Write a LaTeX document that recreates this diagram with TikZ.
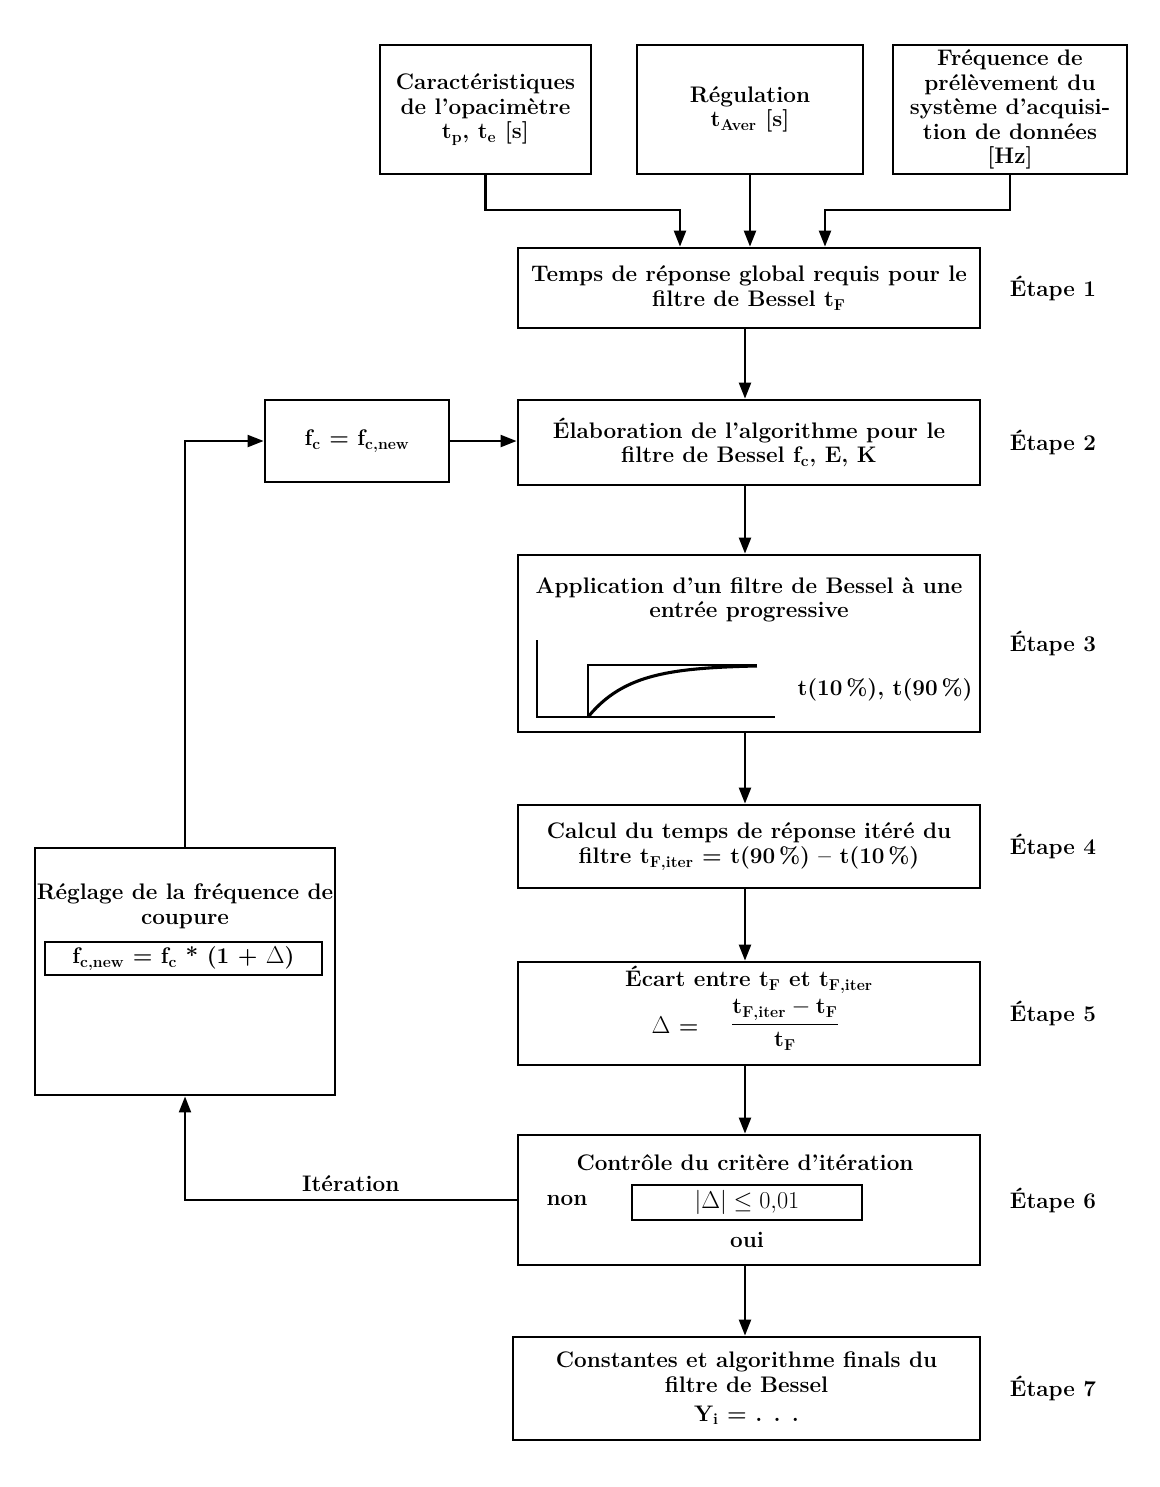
\documentclass[tikz,border=0pt]{standalone}
\usepackage{fontspec}
\usepackage{amsmath}
\usepackage{amssymb}
\usepackage{tikz}
\usetikzlibrary{calc,arrows.meta}

\begin{document}
\begin{tikzpicture}
    [%%%%%%%%%%%%%%%%%%%%%%%%%%%%%%
        x=0.025cm, y=-0.025cm,
        box/.style={draw=black, line width=2pt, inner sep=0pt, align=center,
            font=\fontsize{16}{17.5}\selectfont\bfseries},
        txt/.style={inner sep=0pt, align=center, font=\fontsize{16}{17.5}\selectfont\bfseries},
        arr/.style={line width=1.6pt, -{Triangle[length=0.4cm,width=0.3cm]}},
    ]%%%%%%%%%%%%%%%%%%%%%%%%%%%%%%

\useasboundingbox (0,0) rectangle (1159,1487);
%\draw[help lines] (0,0) grid[step=50] (1159,1487);

% entrees
\node[box, minimum width=5.275cm, minimum height=3.225cm] (opaci) at (485.5,109.5)
	{Caractéristiques\\de l'opacimètre\\t\textsubscript{p}, t\textsubscript{e} [s]};
\node[box, minimum width=5.65cm, minimum height=3.225cm] (regul) at (750,109.5)
	{Régulation\\t\textsubscript{Aver} [s]};
\node[box, minimum width=5.85cm, minimum height=3.225cm] (freq) at (1010,109.5)
	{Fréquence de\\prélèvement du\\système d'acquisi-\\tion de données\\{[Hz]}};

% etapes
\node[box, minimum width=11.55cm, minimum height=2cm] (step1) at (749,288)
	{Temps de réponse global requis pour le\\filtre de Bessel t\textsubscript{F}};
\node[box, minimum width=11.55cm, minimum height=2.125cm] (step2) at (749,442.5)
	{Élaboration de l'algorithme pour le\\filtre de Bessel f\textsubscript{c}, E, K};
\node[box, minimum width=11.55cm, minimum height=4.425cm] (step3) at (749,643.5) {};
\node[txt] (step3t) at (749,600) {Application d'un filtre de Bessel à une\\entrée progressive};
\node[txt] (tcent) at (885,690) {t(10\,\%), t(90\,\%)};
\node[box, minimum width=11.55cm, minimum height=2.075cm] (step4) at (749,846.5)
	{Calcul du temps de réponse itéré du\\filtre t\textsubscript{F,iter} = t(90\,\%) -- t(10\,\%)};
\node[box, minimum width=11.55cm, minimum height=2.575cm] (step5) at (749,1013.5) {};
\node[txt] (ecart) at (749,980) {Écart entre t\textsubscript{F} et t\textsubscript{F,iter}};
\node[txt] (delta) at (675,1025) {$\Delta$ =};
\node[txt] (frac) at (785,1025)
	{$\dfrac{\text{t}_{\text{F,iter}}-\text{t}_{\text{F}}}{\text{t}_{\text{F}}}$};
\node[box, minimum width=11.55cm, minimum height=3.25cm] (step6) at (749,1200) {};
\node[txt] (controle) at (745,1163) {Contrôle du critère d'itération};
\node[txt] (non) at (567,1200) {non};
\node[box, minimum width=5.75cm, minimum height=0.875cm] (crit) at (747,1202.5)
	{$|\Delta| \leq 0{,}01$};
\node[txt] (oui) at (747,1240) {oui};
\node[box, minimum width=11.675cm, minimum height=2.575cm] (step7) at (746.5,1388.5)
	{Constantes et algorithme finals du\\filtre de Bessel\\[0.1cm]Y\textsubscript{i} = . . .};

% boucle
\node[box, minimum width=4.6cm, minimum height=2.05cm] (fcnew) at (357,441)
	{f\textsubscript{c} = f\textsubscript{c,new}};
\node[box, minimum width=7.5cm, minimum height=6.175cm] (reglage) at (185,971.5) {};
\node[txt] (reglaget) at (185,906) {Réglage de la fréquence de\\coupure};
\node[box, minimum width=6.925cm, minimum height=0.825cm] (fcform) at (183.5,958.5)
	{f\textsubscript{c,new} = f\textsubscript{c} * (1 + $\Delta$)};

\foreach \n/\y in {1/288,2/442,3/643,4/846,5/1013,6/1200,7/1388}{
	\node[txt] (etape\n) at (1053,\y) {Étape \n};
}

% reponse indicielle
\draw[line width=2pt] (537,640) |- (775,717);
\draw[line width=2pt] (588,717) |- (757,665);
\draw[line width=2.2pt] plot[domain=0:1, samples=40] ({588+169*\x},{717-52*(1-exp(-4*\x))});

% liaisons
\coordinate (in1) at (680,210);
\coordinate (in3) at (825,210);
\draw[arr] (opaci.south) |- (in1) -- (in1 |- step1.north);
\draw[arr] (regul.south) -- (regul.south |- step1.north);
\draw[arr] (freq.south) |- (in3) -- (in3 |- step1.north);

\foreach \a/\b in {step1/step2,step2/step3,step3/step4,step4/step5,step5/step6,step6/step7}{
	\draw[arr] ([xshift=-0.1cm]\a.south) -- ([xshift=-0.1cm]\a.south |- \b.north);
}

\draw[arr] (step6.west) -| node[txt, pos=0.25, above=5pt] (iter) {Itération} (reglage.south);
\draw[arr] (reglage.north) |- (fcnew.west);
\draw[arr] (fcnew.east) -- (fcnew.east -| step2.west);

\end{tikzpicture}
\end{document}
